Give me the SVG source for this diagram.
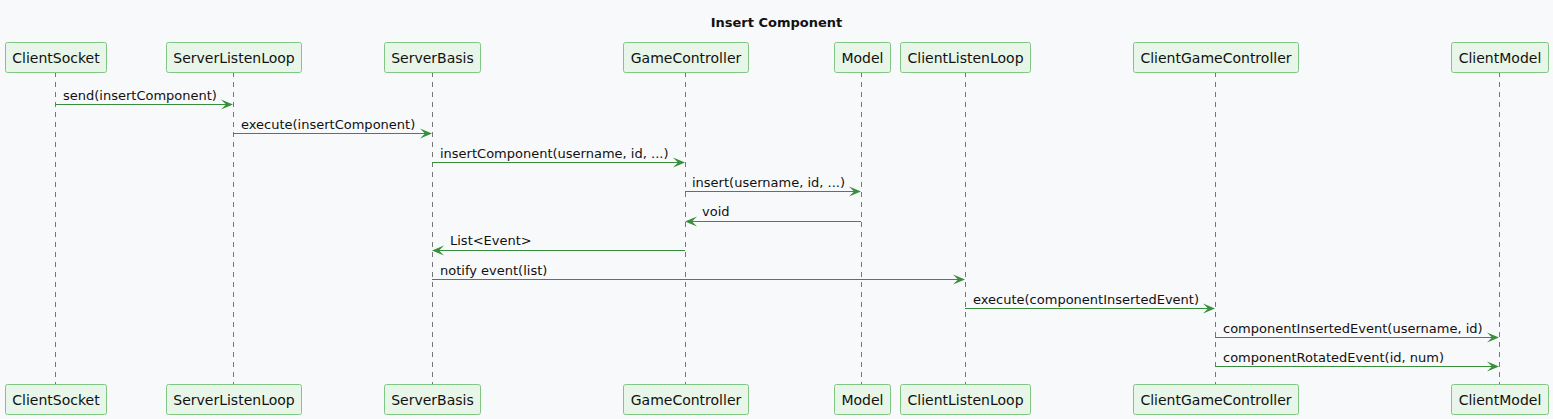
<svg xmlns="http://www.w3.org/2000/svg" width="1553" height="419" viewBox="0 0 1553 419">
<style>
text{font-family:"DejaVu Sans",sans-serif;font-size:13px;fill:#111}
.box{fill:#e8f5e9;stroke:#81c784;stroke-width:1}
.life{stroke:#777;stroke-width:1;stroke-dasharray:5,5}
.msg{stroke:#388e3c;stroke-width:1.2;fill:none}
.c{text-anchor:middle;font-size:14px}
.ah{fill:#388e3c}
</style>
<rect width="1553" height="419" fill="#f8f9fb"/>
<text x="776.5" y="27" style="font-weight:bold;text-anchor:middle">Insert Component</text>
<g id="lifelines">
<line class="life" x1="55.5" y1="72" x2="55.5" y2="384"/>
<line class="life" x1="233.5" y1="72" x2="233.5" y2="384"/>
<line class="life" x1="432.5" y1="72" x2="432.5" y2="384"/>
<line class="life" x1="685.5" y1="72" x2="685.5" y2="384"/>
<line class="life" x1="861.5" y1="72" x2="861.5" y2="384"/>
<line class="life" x1="965.5" y1="72" x2="965.5" y2="384"/>
<line class="life" x1="1215.5" y1="72" x2="1215.5" y2="384"/>
<line class="life" x1="1499.5" y1="72" x2="1499.5" y2="384"/>
</g>
<g id="ClientSocket"><rect class="box" x="5.5" y="42.5" width="101" height="30" rx="2"/><text class="c" x="56" y="62.5">ClientSocket</text><rect class="box" x="5.5" y="384.5" width="101" height="30" rx="2"/><text class="c" x="56" y="404.5">ClientSocket</text></g>
<g id="ServerListenLoop"><rect class="box" x="166.5" y="42.5" width="135" height="30" rx="2"/><text class="c" x="234" y="62.5">ServerListenLoop</text><rect class="box" x="166.5" y="384.5" width="135" height="30" rx="2"/><text class="c" x="234" y="404.5">ServerListenLoop</text></g>
<g id="ServerBasis"><rect class="box" x="384.5" y="42.5" width="96" height="30" rx="2"/><text class="c" x="432.5" y="62.5">ServerBasis</text><rect class="box" x="384.5" y="384.5" width="96" height="30" rx="2"/><text class="c" x="432.5" y="404.5">ServerBasis</text></g>
<g id="GameController"><rect class="box" x="623.5" y="42.5" width="125" height="30" rx="2"/><text class="c" x="686" y="62.5">GameController</text><rect class="box" x="623.5" y="384.5" width="125" height="30" rx="2"/><text class="c" x="686" y="404.5">GameController</text></g>
<g id="Model"><rect class="box" x="834.5" y="42.5" width="56" height="30" rx="2"/><text class="c" x="862.5" y="62.5">Model</text><rect class="box" x="834.5" y="384.5" width="56" height="30" rx="2"/><text class="c" x="862.5" y="404.5">Model</text></g>
<g id="ClientListenLoop"><rect class="box" x="900.5" y="42.5" width="130" height="30" rx="2"/><text class="c" x="965.5" y="62.5">ClientListenLoop</text><rect class="box" x="900.5" y="384.5" width="130" height="30" rx="2"/><text class="c" x="965.5" y="404.5">ClientListenLoop</text></g>
<g id="ClientGameController"><rect class="box" x="1133.5" y="42.5" width="165" height="30" rx="2"/><text class="c" x="1216" y="62.5">ClientGameController</text><rect class="box" x="1133.5" y="384.5" width="165" height="30" rx="2"/><text class="c" x="1216" y="404.5">ClientGameController</text></g>
<g id="ClientModel"><rect class="box" x="1451.5" y="42.5" width="97" height="30" rx="2"/><text class="c" x="1500" y="62.5">ClientModel</text><rect class="box" x="1451.5" y="384.5" width="97" height="30" rx="2"/><text class="c" x="1500" y="404.5">ClientModel</text></g>
<g id="connectors">
<line class="msg" x1="55" y1="104.5" x2="228" y2="104.5"/><polygon class="ah" points="233,104.5 221,99.5 226,104.5 221,109.5"/><text x="63" y="100">send(insertComponent)</text>
<line class="msg" x1="233" y1="133.5" x2="427" y2="133.5"/><polygon class="ah" points="432,133.5 420,128.5 425,133.5 420,138.5"/><text x="241" y="129">execute(insertComponent)</text>
<line class="msg" x1="432" y1="162.5" x2="680" y2="162.5"/><polygon class="ah" points="685,162.5 673,157.5 678,162.5 673,167.5"/><text x="440" y="158">insertComponent(username, id, ...)</text>
<line class="msg" x1="685" y1="191.5" x2="856" y2="191.5"/><polygon class="ah" points="861,191.5 849,186.5 854,191.5 849,196.5"/><text x="692" y="187">insert(username, id, ...)</text>
<line class="msg" x1="690" y1="221.5" x2="861" y2="221.5"/><polygon class="ah" points="685,221.5 697,216.5 692,221.5 697,226.5"/><text x="702" y="216">void</text>
<line class="msg" x1="437" y1="250.5" x2="685" y2="250.5"/><polygon class="ah" points="432,250.5 444,245.5 439,250.5 444,255.5"/><text x="450" y="245">List&lt;Event&gt;</text>
<line class="msg" x1="432" y1="279.5" x2="960" y2="279.5"/><polygon class="ah" points="965,279.5 953,274.5 958,279.5 953,284.5"/><text x="440" y="275">notify event(list)</text>
<line class="msg" x1="965" y1="308.5" x2="1210" y2="308.5"/><polygon class="ah" points="1215,308.5 1203,303.5 1208,308.5 1203,313.5"/><text x="973" y="304">execute(componentInsertedEvent)</text>
<line class="msg" x1="1215" y1="337.5" x2="1494" y2="337.5"/><polygon class="ah" points="1499,337.5 1487,332.5 1492,337.5 1487,342.5"/><text x="1223" y="333">componentInsertedEvent(username, id)</text>
<line class="msg" x1="1215" y1="366.5" x2="1494" y2="366.5"/><polygon class="ah" points="1499,366.5 1487,361.5 1492,366.5 1487,371.5"/><text x="1223" y="362">componentRotatedEvent(id, num)</text>
</g>
</svg>
